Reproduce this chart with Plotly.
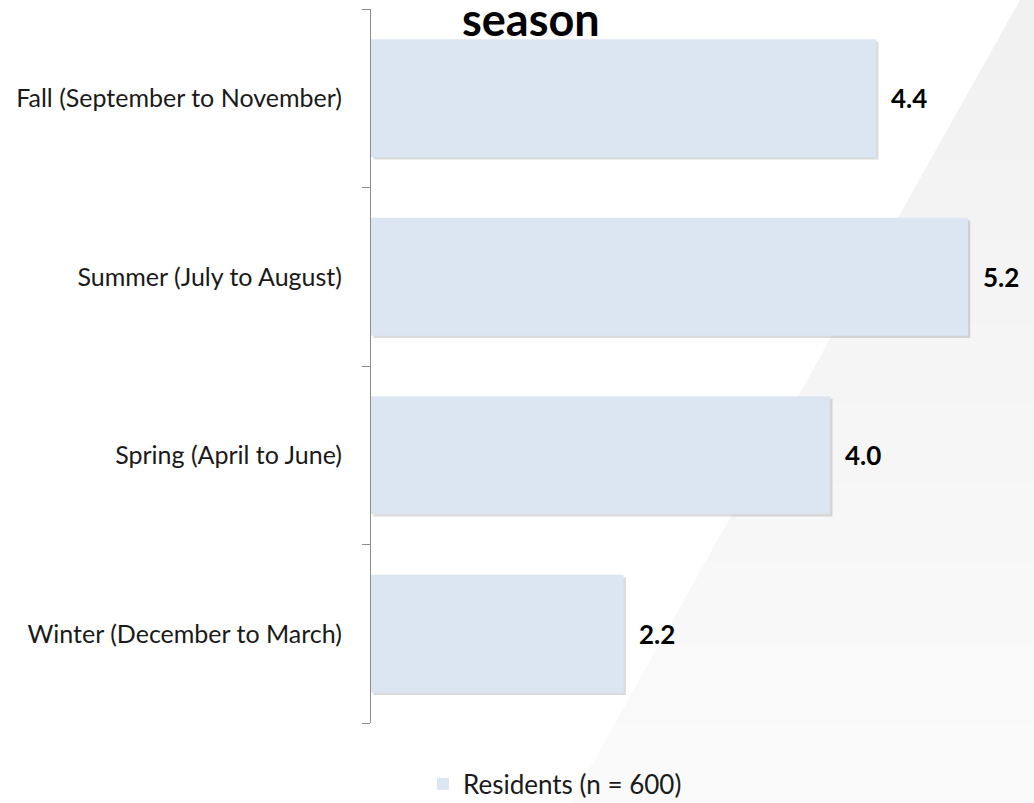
import plotly.graph_objects as go

categories = ["Winter (December to March)", "Spring (April to June)",
              "Summer (July to August)", "Fall (September to November)"]
values = [2.2, 4.0, 5.2, 4.4]
value_labels = ["2.2", "4.0", "5.2", "4.4"]
series_name = "Residents (n = 600)"
title_text = "season"

W, H = 1034, 803
L, R, T, B = 371, 0, 9, 80
pw, ph = W - L - R, H - T - B

def px_to_paper(px, py):
    return (px - L) / pw, (H - B - py) / ph

fig = go.Figure()

# subtle shadow behind bars
fig.add_trace(go.Bar(
    y=categories, x=values, base=0.02, orientation="h",
    width=0.66, offset=-0.343,
    marker=dict(color="rgba(0,0,0,0.14)", line=dict(width=0)),
    showlegend=False, hoverinfo="skip"))

fig.add_trace(go.Bar(
    y=categories, x=values, orientation="h", name=series_name,
    width=0.66, offset=-0.33,
    marker=dict(color="#dce6f2", line=dict(width=0)),
    showlegend=True))

annotations = []
for c, v, t in zip(categories, values, value_labels):
    annotations.append(dict(x=v, y=c, xref="x", yref="y", text="<b>%s</b>" % t,
                            showarrow=False, xanchor="left", xshift=13,
                            font=dict(family="Lato", size=26, color="#000000")))

tx, ty = px_to_paper(531, 19)
annotations.append(dict(x=tx, y=ty, xref="paper", yref="paper",
                        text="<b>%s</b>" % title_text, showarrow=False,
                        xanchor="center", yanchor="middle",
                        font=dict(family="Lato", size=45, color="#000000")))

# diagonal grey background with vertical fade
shapes = []
nb = 10
for i in range(nb):
    y0 = H * i / nb
    y1 = H * (i + 1) / nb + 1
    xa = 1020 - 0.56 * y0
    xb = 1020 - 0.56 * y1
    g = int(241 + 9 * i / (nb - 1))
    p = [px_to_paper(xa, y0), px_to_paper(W + 5, y0), px_to_paper(W + 5, y1), px_to_paper(xb, y1)]
    path = "M %f,%f L %f,%f L %f,%f L %f,%f Z" % (p[0] + p[1] + p[2] + p[3])
    shapes.append(dict(type="path", path=path, xref="paper", yref="paper",
                       fillcolor="rgb(%d,%d,%d)" % (g, g, g), line=dict(width=0),
                       layer="below"))

lx, ly = px_to_paper(423, 784)

fig.update_layout(
    width=W, height=H,
    margin=dict(l=L, r=R, t=T, b=B, pad=0, autoexpand=False),
    barmode="overlay",
    paper_bgcolor="#ffffff", plot_bgcolor="rgba(0,0,0,0)",
    xaxis=dict(range=[0, 5.775], visible=False, showgrid=False, zeroline=False),
    yaxis=dict(type="category", categoryorder="array", categoryarray=categories,
               showline=True, linecolor="#8c8c8c", linewidth=1,
               ticks="outside", ticklen=8, tickcolor="#8c8c8c", tickwidth=1,
               tickson="boundaries", ticklabelstandoff=23,
               showgrid=False, zeroline=False,
               tickfont=dict(family="Lato", size=25, color="#1a1a1a")),
    legend=dict(orientation="h", x=lx, y=ly, xref="paper", yref="paper",
                xanchor="left", yanchor="middle",
                font=dict(family="Lato", size=26, color="#1a1a1a"),
                bgcolor="rgba(0,0,0,0)", itemwidth=30),
    annotations=annotations,
    shapes=shapes,
    showlegend=True,
)

fig.write_html("out.html", config={"displayModeBar": False},
               post_script="document.body.style.margin='0';document.body.style.overflow='hidden';")
